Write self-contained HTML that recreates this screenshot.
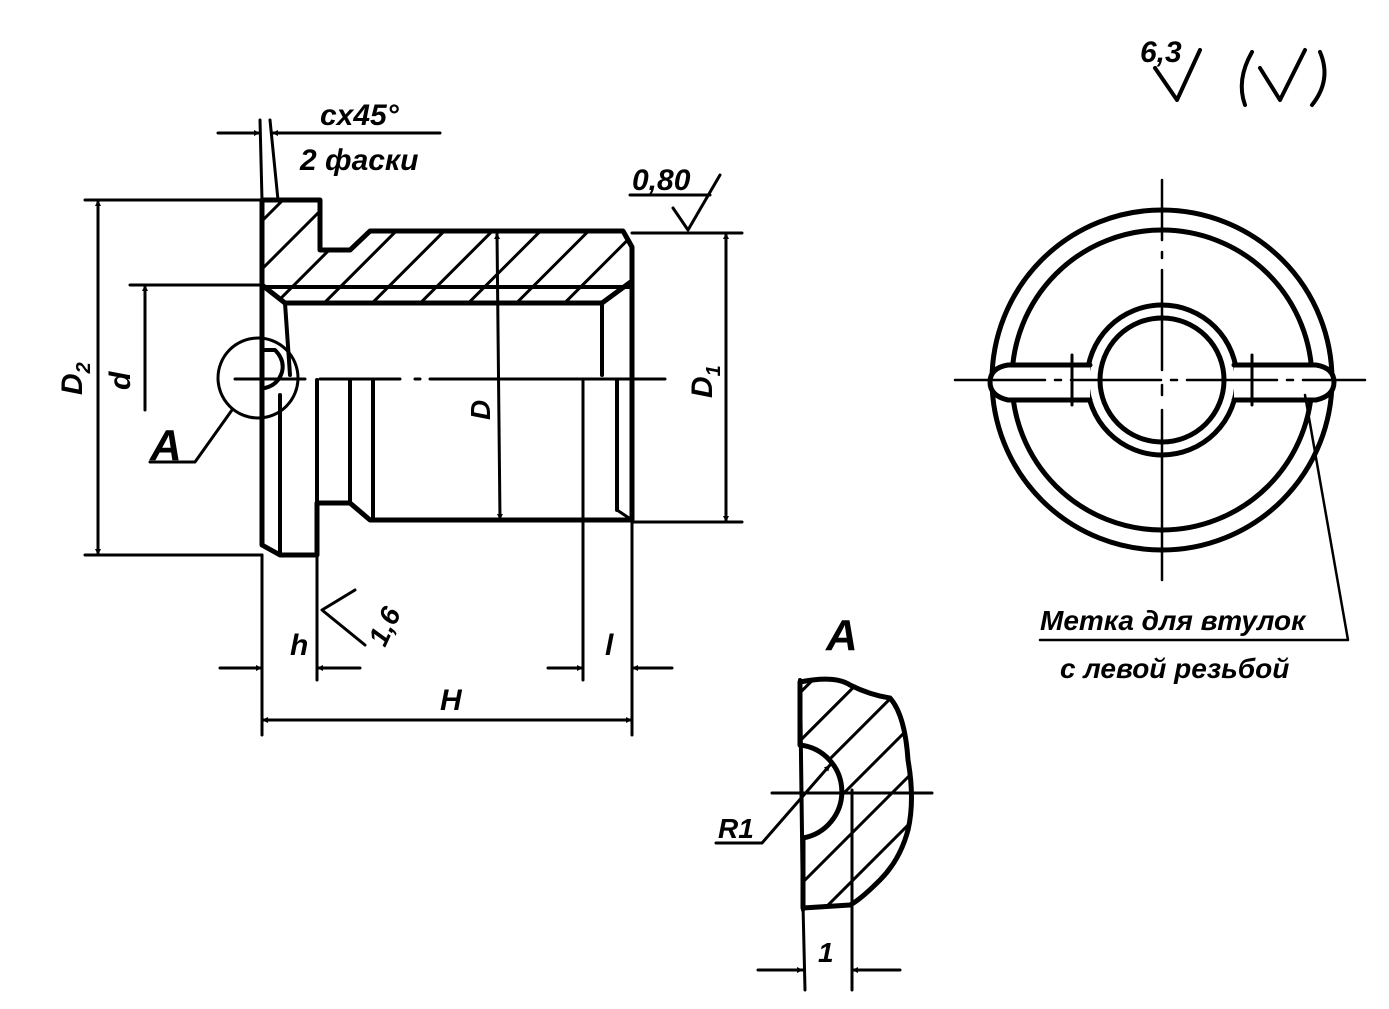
<!DOCTYPE html>
<html><head><meta charset="utf-8"><style>
html,body{margin:0;padding:0;background:#fff}
svg{display:block}
text{font-family:"Liberation Sans",sans-serif;font-style:italic;font-weight:bold;fill:#000}
</style></head><body>
<svg width="1389" height="1009" viewBox="0 0 1389 1009" xmlns="http://www.w3.org/2000/svg">
<defs>
<pattern id="h" patternUnits="userSpaceOnUse" width="34" height="34" patternTransform="rotate(45)">
<line x1="0" y1="0" x2="0" y2="34" stroke="#000" stroke-width="6"/>
</pattern>
<marker id="a" viewBox="0 0 10 10" refX="10" refY="5" markerWidth="9" markerHeight="6" orient="auto-start-reverse" markerUnits="userSpaceOnUse"><path d="M0,0 L10,5 L0,10 z" fill="#000"/></marker>
</defs>
<g fill="none" stroke="#000" stroke-linecap="round" stroke-linejoin="round">
<path d="M262,200 L320,200 L320,250 L350,250 L370,231 L623,231 L632,247 L632,281 L602,303 L285,303 L262,285 Z" fill="url(#h)" stroke-width="5"/>
<line x1="262" y1="287" x2="632" y2="287" stroke-width="4"/>
<path d="M262,285 L262,545 L280,555 L317,555 L317,503 L350,503 L370,520 L632,520 L632,281" stroke-width="5"/>
<line x1="285" y1="303" x2="290" y2="375" stroke-width="4"/>
<line x1="602" y1="303" x2="602" y2="375" stroke-width="4"/>
<line x1="280" y1="395" x2="280" y2="555" stroke-width="4"/>
<line x1="317" y1="380" x2="317" y2="503" stroke-width="4"/>
<line x1="350" y1="380" x2="350" y2="503" stroke-width="4"/>
<line x1="373" y1="380" x2="373" y2="520" stroke-width="4"/>
<line x1="583" y1="380" x2="583" y2="680" stroke-width="3"/>
<line x1="617" y1="380" x2="617" y2="510" stroke-width="4"/>
<path d="M617,510 L632,520" stroke-width="3"/>
<path d="M262,350 L275,350 Q285,360 282,372 Q278,385 265,388" stroke-width="4"/>
<circle cx="258" cy="378" r="40" stroke-width="3"/>
<path d="M232,410 L195,462 L150,462" stroke-width="3"/>
<path d="M235,379 L305,379 M320,379 L400,379 M415,379 L420,379 M430,379 L665,379" stroke-width="3"/>
<line x1="85" y1="200" x2="262" y2="200" stroke-width="3"/>
<line x1="85" y1="555" x2="262" y2="555" stroke-width="3"/>
<line x1="130" y1="285" x2="262" y2="285" stroke-width="3"/>
<line x1="632" y1="233" x2="742" y2="233" stroke-width="3"/>
<line x1="632" y1="522" x2="742" y2="522" stroke-width="3"/>
<line x1="262" y1="555" x2="262" y2="735" stroke-width="3"/>
<line x1="317" y1="555" x2="317" y2="680" stroke-width="3"/>
<line x1="632" y1="520" x2="632" y2="735" stroke-width="3"/>
<line x1="260" y1="120" x2="262" y2="200" stroke-width="3"/>
<line x1="270" y1="120" x2="278" y2="200" stroke-width="3"/>
<line x1="98" y1="200" x2="98" y2="555" stroke-width="3" marker-start="url(#a)" marker-end="url(#a)"/>
<line x1="145" y1="285" x2="145" y2="410" stroke-width="3" marker-start="url(#a)"/>
<line x1="726" y1="233" x2="726" y2="522" stroke-width="3" marker-start="url(#a)" marker-end="url(#a)"/>
<line x1="497" y1="233" x2="500" y2="520" stroke-width="3" marker-start="url(#a)" marker-end="url(#a)"/>
<line x1="220" y1="668" x2="262" y2="668" stroke-width="3" marker-end="url(#a)"/>
<line x1="360" y1="668" x2="317" y2="668" stroke-width="3" marker-end="url(#a)"/>
<line x1="548" y1="668" x2="583" y2="668" stroke-width="3" marker-end="url(#a)"/>
<line x1="672" y1="668" x2="632" y2="668" stroke-width="3" marker-end="url(#a)"/>
<line x1="262" y1="720" x2="632" y2="720" stroke-width="3" marker-start="url(#a)" marker-end="url(#a)"/>
<line x1="218" y1="133" x2="260" y2="133" stroke-width="3" marker-end="url(#a)"/>
<line x1="440" y1="133" x2="272" y2="133" stroke-width="3" marker-end="url(#a)"/>
<path d="M630,195 L710,195 M673,208 L688,230 L720,175" stroke-width="3"/>
<path d="M365,645 L322,610 L355,590" stroke-width="3"/>
<path d="M1155,68 L1177,100 L1200,50" stroke-width="4"/>
<path d="M1252,52 Q1236,80 1245,105" stroke-width="4"/>
<path d="M1260,68 L1280,100 L1305,50" stroke-width="4"/>
<path d="M1320,52 Q1332,80 1312,105" stroke-width="4"/>
<circle cx="1162" cy="380" r="170" stroke-width="5"/>
<circle cx="1162" cy="380" r="150" stroke-width="5"/>
<circle cx="1162" cy="380" r="75" stroke-width="5"/>
<circle cx="1162" cy="380" r="62" stroke-width="5"/>
<path d="M1090,365 L1008,365 Q990,368 990,382 Q990,396 1008,400 L1090,400" fill="#fff" stroke-width="5"/>
<path d="M1234,365 L1316,365 Q1334,368 1334,382 Q1334,396 1316,400 L1234,400" fill="#fff" stroke-width="5"/>
<line x1="1072" y1="355" x2="1072" y2="405" stroke-width="3"/>
<line x1="1252" y1="355" x2="1252" y2="405" stroke-width="3"/>
<path d="M1162,180 L1162,240 M1162,252 L1162,258 M1162,270 L1162,370 M1162,385 L1162,395 M1162,410 L1162,580" stroke-width="2.5"/>
<path d="M955,380 L1365,380" stroke-width="2.5" stroke-dasharray="90,10,6,10"/>
<path d="M1305,395 L1348,640 L1040,640" stroke-width="2.5"/>
<path d="M800,682 Q835,675 850,685 Q870,695 890,698 Q905,715 908,760 Q915,800 908,830 Q900,860 880,880 Q860,900 850,905 L803,908 L803,838 A47,47 0 0 0 800,745 Z" fill="url(#h)" stroke-width="5"/>
<line x1="800" y1="680" x2="803" y2="910" stroke-width="4"/>
<line x1="772" y1="793" x2="932" y2="793" stroke-width="3"/>
<line x1="852" y1="790" x2="852" y2="990" stroke-width="3"/>
<line x1="803" y1="905" x2="805" y2="990" stroke-width="3"/>
<line x1="758" y1="970" x2="803" y2="970" stroke-width="3" marker-end="url(#a)"/>
<line x1="900" y1="970" x2="852" y2="970" stroke-width="3" marker-end="url(#a)"/>
<path d="M716,843 L762,843 L830,765" stroke-width="3" marker-end="url(#a)"/>
</g>
<text x="320" y="125" font-size="30">cx45°</text>
<text x="300" y="170" font-size="30">2 фаски</text>
<text x="632" y="190" font-size="30">0,80</text>
<text x="150" y="460" font-size="44" font-weight="normal">A</text>
<text x="290" y="655" font-size="30">h</text>
<text x="440" y="710" font-size="30">H</text>
<text x="605" y="655" font-size="30">l</text>
<text x="1140" y="62" font-size="30">6,3</text>
<text x="826" y="650" font-size="44" font-weight="normal">A</text>
<text x="718" y="838" font-size="28">R1</text>
<text x="818" y="962" font-size="28">1</text>
<text x="1040" y="630" font-size="28">Метка для втулок</text>
<text x="1060" y="678" font-size="28">с левой резьбой</text>
<text transform="translate(82,395) rotate(-90)" font-size="30">D<tspan font-size="20" dy="8">2</tspan></text>
<text transform="translate(130,390) rotate(-90)" font-size="30">d</text>
<text transform="translate(490,420) rotate(-90)" font-size="28">D</text>
<text transform="translate(712,398) rotate(-90)" font-size="30">D<tspan font-size="20" dy="8">1</tspan></text>
<text transform="translate(385,648) rotate(-65)" font-size="28">1,6</text>
</svg>
</body></html>
